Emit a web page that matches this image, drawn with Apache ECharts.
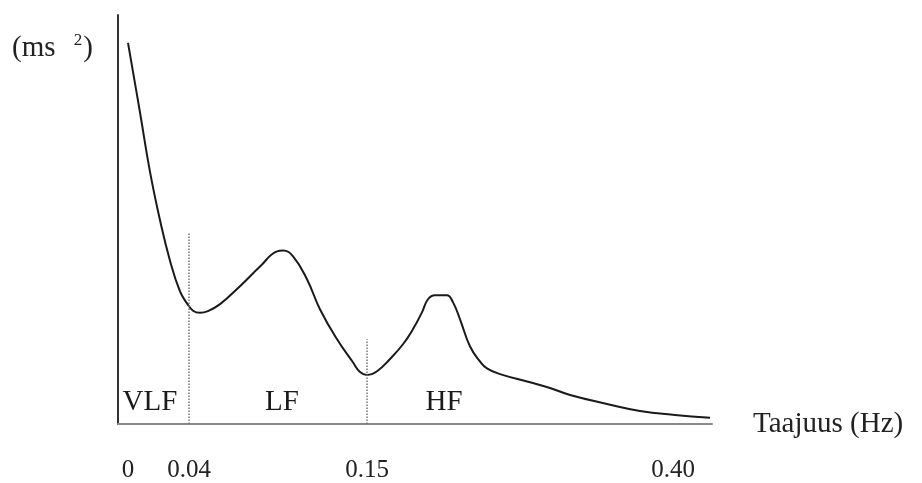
<!DOCTYPE html>
<html><head><meta charset="utf-8">
<script src="https://cdn.jsdelivr.net/npm/echarts@6/dist/echarts.min.js"></script>
<style>html,body{margin:0;padding:0;background:#fff}#c{width:922px;height:483px}</style>
</head><body><div id="c"></div>
<script>
// Spectrum curve (frequency in Hz, power in arbitrary ms^2 units)
const freqHz = [0.000, 0.0079, 0.0144, 0.0210, 0.0275, 0.0341, 0.0387, 0.0425, 0.0468, 0.0517, 0.0592, 0.0715, 0.0839, 0.0944, 0.0981, 0.1043, 0.1129, 0.1210, 0.1315, 0.1413, 0.1457, 0.1500, 0.1582, 0.1688, 0.1794, 0.1876, 0.1949, 0.1998, 0.2055, 0.2153, 0.2202, 0.2260, 0.2341, 0.2423, 0.2480, 0.2587, 0.2832, 0.2995, 0.3159, 0.3461, 0.3730, 0.4016, 0.4302];
const power  = [93.2, 76.1, 61.7, 49.8, 40.0, 32.4, 29.5, 27.7, 27.2, 27.6, 29.3, 33.7, 38.5, 42.2, 42.4, 41.0, 35.4, 28.0, 20.7, 15.1, 12.7, 12.0, 12.9, 15.9, 19.5, 23.2, 27.3, 30.5, 31.5, 31.5, 29.8, 25.6, 19.0, 15.3, 13.6, 12.2, 10.2, 8.8, 7.1, 4.9, 3.2, 2.2, 1.5];

const tickHz = [0, 0.04, 0.15, 0.40];
const tickLabels = ['0', '0.04', '0.15', '0.40'];

const bandEdgesHz = [0.04, 0.15];
const bandEdgeTops = [46.8, 20.7];

const bandNames = ['VLF', 'LF', 'HF'];
const bandLabelHz = [0.0144, 0.0975, 0.2129];
const bandLabelLevel = [5.4, 5.4, 5.4];

const darkBaseHz = [-0.0066, 0.090];

// The hand-drawn frequency axis is not linear: piecewise mapping Hz -> axis units
const knotHz = [0, 0.04, 0.15, 0.40];
const knotU = [10, 71, 249, 555];
const axisMaxU = 594;

function warp(f) {
  const n = knotHz.length;
  let i = 0;
  if (f <= knotHz[1]) i = 0;
  else if (f >= knotHz[n - 2]) i = n - 2;
  else { for (i = 0; i < n - 1; i++) if (f <= knotHz[i + 1]) break; }
  const t = (f - knotHz[i]) / (knotHz[i + 1] - knotHz[i]);
  return knotU[i] + t * (knotU[i + 1] - knotU[i]);
}

const FONT = 'Liberation Serif, Times New Roman, serif';
const chart = echarts.init(document.getElementById('c'));

chart.setOption({
  animation: false,
  backgroundColor: '#fff',
  grid: { left: 118, top: 15, width: axisMaxU, height: 410, containLabel: false },
  xAxis: {
    type: 'value', min: 0, max: axisMaxU,
    name: 'Taajuus (Hz)', nameLocation: 'end', nameGap: 41,
    nameTextStyle: { fontFamily: FONT, fontSize: 29, color: '#222', align: 'left', verticalAlign: 'middle', padding: [24, 0, 0, 0] },
    axisLine: { show: true, lineStyle: { color: '#8a8a8a', width: 2 } },
    axisTick: { show: false },
    splitLine: { show: false },
    axisLabel: {
      customValues: tickHz.map(warp),
      margin: 34, fontFamily: FONT, fontSize: 25, color: '#222',
      formatter: function (v) {
        let best = 0, d = Infinity;
        tickHz.forEach(function (f, i) { const dd = Math.abs(warp(f) - v); if (dd < d) { d = dd; best = i; } });
        return tickLabels[best];
      }
    }
  },
  yAxis: {
    type: 'value', min: 0, max: 100,
    name: '{a|(ms }{s|2}{a|)}', nameLocation: 'end', nameGap: -33,
    nameTextStyle: {
      align: 'right', verticalAlign: 'middle', padding: [0, 25, 0, 0],
      rich: {
        a: { fontFamily: FONT, fontSize: 29, color: '#222', lineHeight: 32 },
        s: { fontFamily: FONT, fontSize: 17, color: '#222', lineHeight: 16, verticalAlign: 'top', padding: [0, 1, 0, 11] }
      }
    },
    axisLine: { show: true, lineStyle: { color: '#333', width: 2 } },
    axisTick: { show: false },
    axisLabel: { show: false },
    splitLine: { show: false }
  },
  series: [
    {
      type: 'line',
      data: freqHz.map(function (f, i) { return [warp(f), power[i]]; }),
      smooth: 0.45,
      showSymbol: false,
      lineStyle: { color: '#1a1a1a', width: 2 },
      markLine: {
        silent: true, symbol: 'none', label: { show: false },
        data: bandEdgesHz.map(function (f, i) {
          return [
            { coord: [warp(f), 0], lineStyle: { color: '#777', width: 1.5, type: 'dotted' } },
            { coord: [warp(f), bandEdgeTops[i]] }
          ];
        }).concat([[
          { coord: [warp(darkBaseHz[0]), 0], lineStyle: { color: '#333', width: 2, type: 'solid' } },
          { coord: [warp(darkBaseHz[1]), 0] }
        ]])
      }
    },
    {
      type: 'scatter',
      symbol: 'circle', symbolSize: 1,
      itemStyle: { color: '#fff', opacity: 0 },
      data: bandNames.map(function (n, i) { return { name: n, value: [warp(bandLabelHz[i]), bandLabelLevel[i]] }; }),
      label: { show: true, position: 'inside', formatter: '{b}', fontFamily: FONT, fontSize: 29, color: '#1a1a1a', textBorderWidth: 0, opacity: 1 }
    }
  ]
});
</script>
</body></html>
